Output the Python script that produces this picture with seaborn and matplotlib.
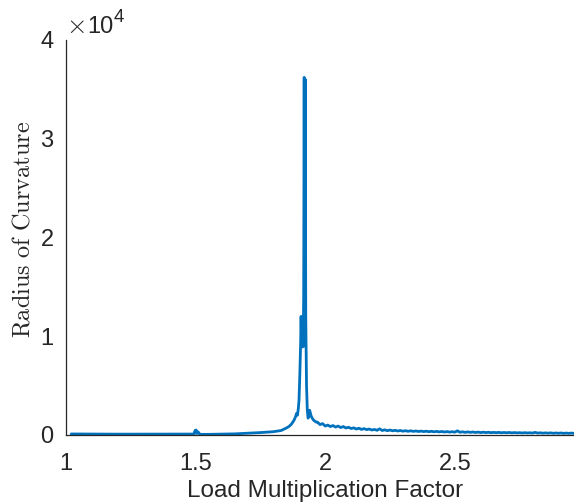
import numpy as np
import matplotlib
matplotlib.use("Agg")
import matplotlib.pyplot as plt
import seaborn as sns
import pandas as pd

# ---- data ----
x_head = [1.02, 1.10, 1.20, 1.30, 1.40, 1.49, 1.495, 1.498, 1.500, 1.502, 1.505,
          1.510, 1.515, 1.52, 1.55, 1.60, 1.65, 1.70, 1.75, 1.80, 1.83, 1.85,
          1.86, 1.87, 1.88, 1.885, 1.89, 1.893, 1.896, 1.899, 1.902, 1.905,
          1.907, 1.909, 1.911, 1.913, 1.915, 1.917, 1.919, 1.921, 1.923, 1.925,
          1.928, 1.931, 1.934, 1.937, 1.940, 1.943, 1.946, 1.950, 1.955, 1.960,
          1.965]
y_head = [100, 90, 80, 80, 80, 90, 150, 450, 200, 500, 150,
          300, 100, 60, 60, 80, 110, 170, 240, 330, 450, 700,
          850, 1100, 1500, 1800, 2200, 2000, 2600, 3500, 6000, 9000,
          12000, 9500, 11500, 8900, 9200, 14000, 36200, 9000, 36000, 12000,
          5000, 2500, 1700, 1900, 2500, 2200, 1900, 1700, 1500, 1400,
          1300]

tail_start, tail_step = 1.97, 0.01
y_tail = [1300, 1050, 1150, 900, 1000, 850, 950, 800, 900, 750,
          850, 700, 780, 650, 720, 600, 680, 560, 640, 540,
          600, 500, 560, 470, 620, 450, 520, 430, 500, 420,
          470, 400, 450, 380, 430, 370, 420, 360, 400, 350,
          390, 340, 380, 330, 370, 320, 360, 310, 350, 300,
          340, 290, 330, 280, 420, 270, 320, 260, 310, 260,
          300, 250, 290, 240, 280, 240, 270, 230, 260, 230,
          260, 220, 250, 220, 250, 210, 240, 210, 230, 200,
          230, 200, 220, 190, 260, 190, 220, 180, 210, 180,
          210, 170, 200, 170, 200, 160, 190, 160, 190, 160]
x_tail = list(np.round(tail_start + tail_step * np.arange(len(y_tail)), 3))

x_vals = x_head + x_tail
y_vals = y_head + y_tail

x_ticks = [1, 1.5, 2, 2.5]
x_tick_labels = ["1", "1.5", "2", "2.5"]
y_ticks = [0, 10000, 20000, 30000, 40000]
y_tick_labels = ["0", "1", "2", "3", "4"]

df = pd.DataFrame({"Load Multiplication Factor": x_vals, "Radius of Curvature": y_vals})

# ---- style ----
sns.set_style("white")
plt.rcParams["font.family"] = ["Liberation Sans", "DejaVu Sans"]
plt.rcParams["mathtext.fontset"] = "cm"

dark = "#262626"
fig = plt.figure(figsize=(5.74, 5.04), dpi=100)
ax = fig.add_axes([0.115, 0.137, 0.885, 0.784])

sns.lineplot(data=df, x="Load Multiplication Factor", y="Radius of Curvature",
             estimator=None, sort=False, color="#0072BD", linewidth=2.0, ax=ax)

ax.set_xlim(1, 2.96)
ax.set_ylim(0, 40000)
ax.set_xticks(x_ticks)
ax.set_xticklabels(x_tick_labels)
ax.set_yticks(y_ticks)
ax.set_yticklabels(y_tick_labels)

for s in ["top", "right"]:
    ax.spines[s].set_visible(False)
for s in ["left", "bottom"]:
    ax.spines[s].set_color(dark)
    ax.spines[s].set_linewidth(0.9)

ax.tick_params(axis="both", direction="in", length=5, width=0.9, colors=dark,
               labelsize=17, labelcolor=dark)
ax.tick_params(axis="x", pad=13)
ax.tick_params(axis="y", pad=9)

ax.set_xlabel("Load Multiplication Factor", fontsize=17.5, color=dark, va="baseline")
ax.xaxis.set_label_coords(0.509, -0.157)
ax.set_ylabel(r"$\mathrm{Radius\ of\ Curvature}$", fontsize=17.5, color=dark)
ax.yaxis.set_label_coords(-0.062, 0.519)

ax.text(0.0, 1.018, r"$\times$", transform=ax.transAxes,
        ha="left", va="baseline", fontsize=19, color=dark)
ax.text(0.0413, 1.018, "10", transform=ax.transAxes,
        ha="left", va="baseline", fontsize=17, color=dark)
ax.text(0.0935, 1.046, "4", transform=ax.transAxes,
        ha="left", va="baseline", fontsize=13.5, color=dark)

fig.savefig("out.png", dpi=100)
